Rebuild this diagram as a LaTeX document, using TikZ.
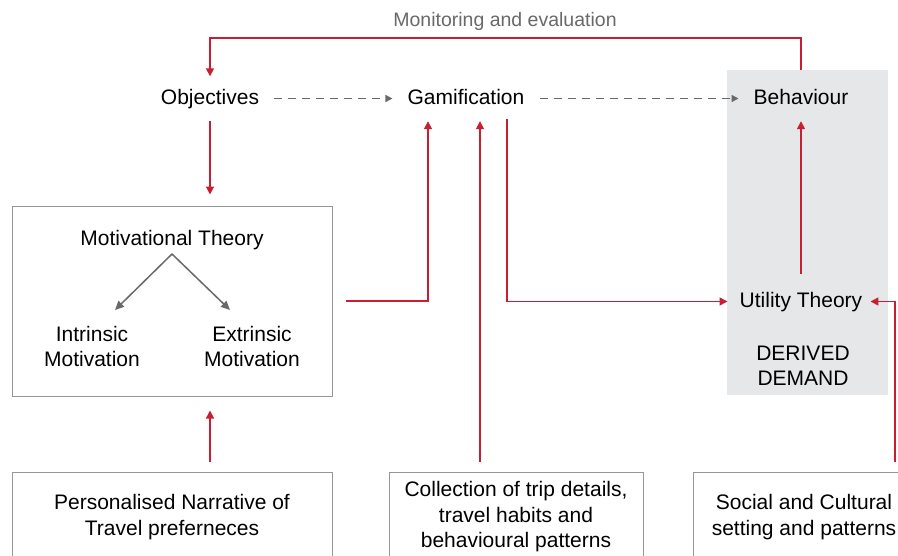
\documentclass[tikz,border=0pt]{standalone}
\usepackage{fontspec}
\setmainfont{Liberation Sans}
\usetikzlibrary{arrows.meta}
\definecolor{myred}{RGB}{200,30,50}
\definecolor{bgray}{RGB}{230,231,232}
\definecolor{dgray}{RGB}{105,105,105}
\definecolor{boxgray}{RGB}{150,150,150}
\begin{document}
\begin{tikzpicture}[x=1pt,y=-1pt,
  lbl/.style={font=\fontsize{21}{25}\selectfont, text height=15pt, text depth=4pt, inner sep=8pt},
  ml/.style={font=\fontsize{21}{25}\selectfont, align=center, inner sep=0pt},
  bx/.style={draw=boxgray, line width=1pt, font=\fontsize{21}{25.5}\selectfont, align=center, minimum height=90pt, inner sep=0pt},
  rl/.style={draw=myred, line width=1.5pt, -{Triangle[width=8pt,length=8pt]}},
  dl/.style={draw=dgray, line width=1.5pt, dash pattern=on 8pt off 6pt, -{Triangle[width=7pt,length=7pt]}, shorten <=7pt, shorten >=7pt},
  ga/.style={draw=dgray, line width=1.5pt, -{Triangle[width=8pt,length=9pt]}}]
\useasboundingbox (0,0) rectangle (898,555);
\fill[white] (0,0) rectangle (898,555);
\clip (0,0) rectangle (898,555);
% grey background for derived demand
\node[fill=bgray, minimum width=161pt, minimum height=325pt, inner sep=0pt, anchor=north west] (dd) at (727,70) {};
\node[ml] (dem) at (803,366) {DERIVED\\DEMAND};
% top row
\node[font=\fontsize{19.5}{23}\selectfont, text=dgray] (mon) at (505,21) {Monitoring and evaluation};
\node[lbl] (obj) at (210,98.5) {Objectives};
\node[lbl] (gam) at (466,98.5) {Gamification};
\node[lbl] (beh) at (801,98.5) {Behaviour};
% motivational box
\node[draw=boxgray, line width=1pt, minimum width=320pt, minimum height=190pt, inner sep=0pt] (mot) at (172,301) {};
\node[ml] (mt) at (172,240) {Motivational Theory};
\node[ml] (intr) at (92,346) {Intrinsic\\Motivation};
\node[ml] (extr) at (252,346) {Extrinsic\\Motivation};
\coordinate (ia) at (115,310);
\coordinate (ea) at (230,310);
% utility theory
\node[lbl] (ut) at (801,301.5) {Utility Theory};
% bottom boxes
\node[bx, minimum width=320pt] (pers) at (172,517) {Personalised Narrative of\\Travel preferneces};
\node[bx, minimum width=254pt] (coll) at (516,517) {Collection of trip details,\\travel habits and\\behavioural patterns};
\node[bx, minimum width=222pt] (soc) at (804,517) {Social and Cultural\\setting and patterns};
% connectors
\draw[rl] (beh.north |- dd.north) -- ++(0,-32) -| ([yshift=4.5pt]obj.north);
\draw[dl] (obj) -- (gam);
\draw[dl] (gam) -- (beh);
\draw[rl, shorten <=5pt, shorten >=11pt] (obj.south) -- (obj.south |- mot.north);
\draw[ga] ([yshift=-4pt]mt.south) -- (ia);
\draw[ga] ([yshift=-4pt]mt.south) -- (ea);
\draw[rl, shorten <=13pt] (mot.east) -| ([xshift=-38pt,yshift=-5pt]gam.south);
\draw[rl, shorten <=10pt] ([xshift=-36pt]coll.north) -- ([xshift=14pt,yshift=-5pt]gam.south);
\draw[rl, shorten >=4pt] ([xshift=41pt,yshift=-3pt]gam.south) |- (ut.west);
\draw[rl, shorten <=10pt, shorten >=5pt] (ut.north) -- (beh.south);
\draw[rl, shorten <=10pt] ([xshift=91pt]soc.north) |- (ut.east);
\draw[rl, shorten <=10pt, shorten >=14pt] ([xshift=38pt]pers.north) -- ([xshift=38pt]mot.south);
\end{tikzpicture}
\end{document}
